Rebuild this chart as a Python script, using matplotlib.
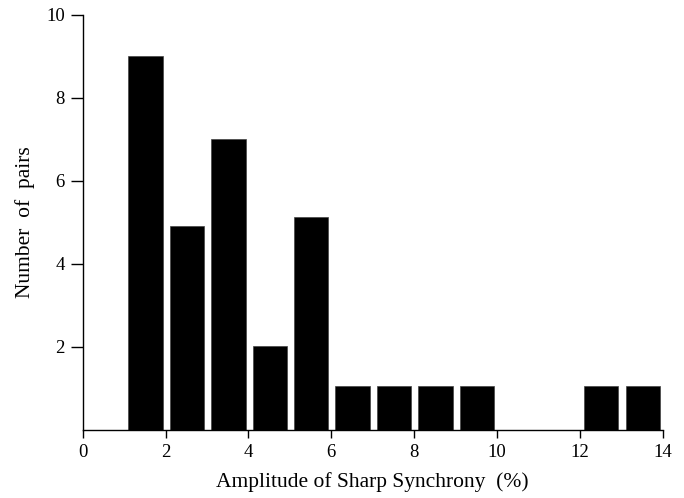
import numpy as np
from matplotlib import pyplot as plt

# histogram of amplitude of sharp synchrony, bins 1% wide
bin_left = [1, 2, 3, 4, 5, 6, 7, 8, 9, 12, 13]
counts = [9.0, 4.92, 7.0, 2.02, 5.13, 1.05, 1.05, 1.05, 1.05, 1.05, 1.05]

x_ticks = [0, 2, 4, 6, 8, 10, 12, 14]
y_ticks = [2, 4, 6, 8, 10]

plt.rcParams['font.family'] = ['Liberation Serif', 'DejaVu Serif']

fig = plt.figure(figsize=(6.84, 4.98), dpi=100)
ax = fig.add_axes([0.121, 0.137, 0.848, 0.833])

ax.bar(np.array(bin_left) + 0.1, counts, width=0.83, align='edge',
       color='black', edgecolor='#444444', linewidth=0.5)

ax.set_xlim(0, 14)
ax.set_ylim(0, 10)
ax.set_xticks(x_ticks)
ax.set_yticks(y_ticks)
ax.spines['top'].set_visible(False)
ax.spines['right'].set_visible(False)
ax.spines['left'].set_linewidth(1.0)
ax.spines['bottom'].set_linewidth(1.0)
ax.tick_params(axis='y', direction='out', length=9, width=1.0, labelsize=13.5, pad=4)
ax.tick_params(axis='x', direction='out', length=6, width=1.0, labelsize=13.5, pad=4)

ax.set_xlabel("Amplitude of Sharp Synchrony  (%)", fontsize=15.5, labelpad=8)
ax.set_ylabel("Number  of  pairs", fontsize=15.5, labelpad=8)

fig.savefig("out.png", dpi=100)
